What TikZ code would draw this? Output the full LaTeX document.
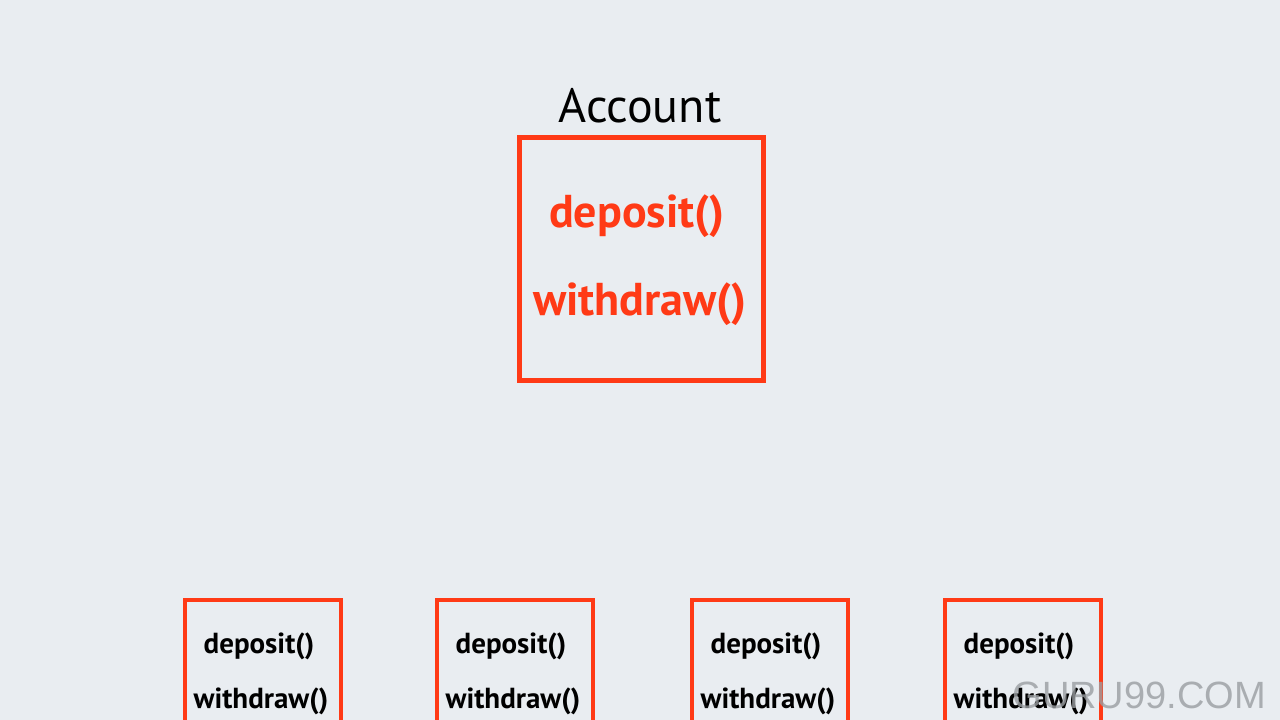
\documentclass[tikz,border=0pt]{standalone}
\usepackage{fontspec}
\setmainfont{PT Sans}
\newfontfamily\wmfont{Liberation Sans}
\definecolor{bg}{HTML}{E9EDF1}
\definecolor{boxred}{HTML}{FF3A16}
\definecolor{wmgray}{HTML}{9A9EA2}
\tikzset{
  bigbox/.style={draw=boxred, line width=5pt},
  smallbox/.style={draw=boxred, line width=4pt},
  bigtext/.style={text=boxred, font=\fontsize{46}{52}\selectfont\bfseries, anchor=base, inner sep=0pt},
  smalltext/.style={text=black, font=\fontsize{29}{34}\selectfont\bfseries, anchor=base, inner sep=0pt},
  titletext/.style={text=black, font=\fontsize{48}{54}\selectfont, anchor=base, inner sep=0pt},
  wmtext/.style={text=wmgray, font=\wmfont\fontsize{38}{42}\selectfont, anchor=base east, inner sep=0pt, opacity=0.8}
}
\begin{document}
\begin{tikzpicture}[x=1pt,y=-1pt]
\useasboundingbox (0,0) rectangle (1280,720);
\fill[bg] (0,0) rectangle (1280,720);
\clip (0,0) rectangle (1280,720);
% title and main class box
\node[titletext] (title) at (640,122) {Account};
\node[bigbox, minimum width=244pt, minimum height=243pt, inner sep=0pt] (acc) at (641,258.5) {};
\node[bigtext] (accdep) at (637,227) {deposit()};
\node[bigtext] (accwd) at (640,315) {withdraw()};
% four small boxes
\foreach \i/\cx in {1/263, 2/515, 3/770, 4/1023} {
  \node[smallbox, minimum width=156pt, minimum height=140pt, inner sep=0pt, anchor=north] (sub\i) at (\cx,598) {};
  \node[smalltext] (dep\i) at (\cx-4,653) {deposit()};
  \node[smalltext] (wd\i) at (\cx-2,708) {withdraw()};
}
% watermark
\node[wmtext] (wm) at (1266,708) {GURU99.COM};
\end{tikzpicture}
\end{document}
